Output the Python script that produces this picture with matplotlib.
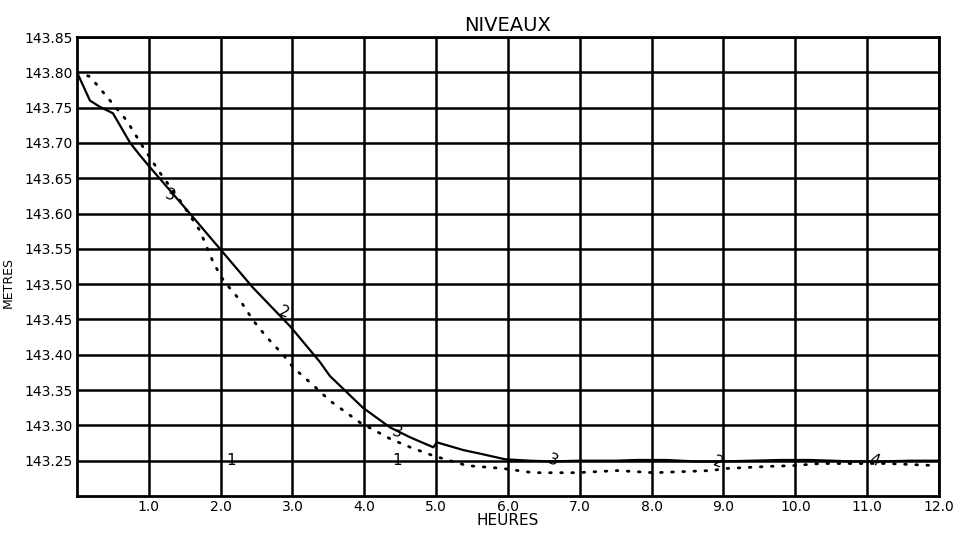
import matplotlib
matplotlib.use("Agg")
import matplotlib.pyplot as plt

plt.rcParams['font.family'] = ['DejaVu Sans']

# Solid curve (heures, metres)
solid_x = [0.0, 0.18, 0.32, 0.50, 0.74, 0.88, 1.02, 1.53, 1.99, 2.45, 2.97, 3.38, 3.52,
           3.98, 4.36, 4.64, 4.96, 5.01, 5.38, 5.61, 5.96, 6.3, 6.6, 7.0, 7.5, 7.8, 8.2,
           8.6, 9.0, 9.4, 9.8, 10.2, 10.5, 10.8, 11.2, 11.6, 12.0]
solid_y = [143.80, 143.76, 143.751, 143.742, 143.70, 143.682, 143.665, 143.605, 143.55,
           143.495, 143.44, 143.39, 143.37, 143.325, 143.297, 143.283, 143.269, 143.276,
           143.265, 143.26, 143.252, 143.250, 143.249, 143.250, 143.250, 143.251, 143.251,
           143.249, 143.249, 143.250, 143.251, 143.251, 143.250, 143.249, 143.249,
           143.250, 143.250]

# Dotted curve
dot_x = [0.0, 0.18, 0.46, 0.69, 0.92, 1.16, 1.43, 1.71, 1.90, 2.04, 2.27, 2.45, 2.64,
         2.87, 3.01, 3.34, 3.52, 3.94, 4.36, 4.64, 4.96, 5.43, 5.93, 6.35, 6.96, 7.52,
         8.03, 8.82, 9.05, 9.65, 9.97, 10.35, 11.28, 11.98]
dot_y = [143.80, 143.794, 143.76, 143.732, 143.694, 143.657, 143.619, 143.576, 143.53,
         143.505, 143.477, 143.449, 143.425, 143.40, 143.382, 143.352, 143.335, 143.304,
         143.281, 143.269, 143.257, 143.243, 143.239, 143.233, 143.233, 143.236,
         143.233, 143.236, 143.239, 143.242, 143.243, 143.246, 143.246, 143.243]

# Curve labels
label_text = ['3', '2', '3', '3', '2', '4', '1', '1']
label_x = [1.3, 2.88, 4.45, 6.62, 8.92, 11.1, 2.15, 4.45]
label_y = [143.625, 143.46, 143.29, 143.25, 143.247, 143.25, 143.25, 143.25]

xticks = [1, 2, 3, 4, 5, 6, 7, 8, 9, 10, 11, 12]
xtick_labels = ['1.0', '2.0', '3.0', '4.0', '5.0', '6.0', '7.0', '8.0', '9.0', '10.0', '11.0', '12.0']
yticks = [143.25, 143.30, 143.35, 143.40, 143.45, 143.50, 143.55, 143.60, 143.65,
          143.70, 143.75, 143.80, 143.85]

fig = plt.figure(figsize=(9.54, 5.35), dpi=100)
ax = fig.add_axes([77/954, 1 - 496/535, (939-77)/954, (496-37)/535])

ax.set_xlim(0, 12)
ax.set_ylim(143.20, 143.85)

for xv in xticks:
    ax.axvline(xv, color='black', lw=1.8, zorder=1)
for yv in yticks:
    ax.axhline(yv, color='black', lw=1.8, zorder=1)

ax.plot(solid_x, solid_y, color='black', lw=1.6, zorder=3)
ax.plot(dot_x, dot_y, color='black', lw=2.0, linestyle=(0, (0.6, 3.4)),
        dash_capstyle='round', zorder=3)

for t, xv, yv in zip(label_text, label_x, label_y):
    ax.text(xv, yv, t, fontsize=11, ha='center', va='center', zorder=4,
            color='black', rotation=-20 if t != '1' else 0)

ax.set_xticks(xticks)
ax.set_xticklabels(xtick_labels)
ax.set_yticks(yticks)
ax.set_yticklabels([f"{v:.2f}" for v in yticks])
ax.tick_params(length=0, labelsize=10, pad=3)
ax.get_xticklabels()[-1].set_horizontalalignment('center')
ax.get_xticklabels()[-1].set_x(11.95)

for s in ax.spines.values():
    s.set_linewidth(2)
    s.set_color('black')

ax.set_title('NIVEAUX', fontsize=14, pad=4)
ax.set_xlabel('HEURES', fontsize=11, labelpad=-1)
ax.set_ylabel('METRES', fontsize=9)
ax.yaxis.set_label_coords(-0.072, 0.465)

fig.savefig('out.png', dpi=100)
